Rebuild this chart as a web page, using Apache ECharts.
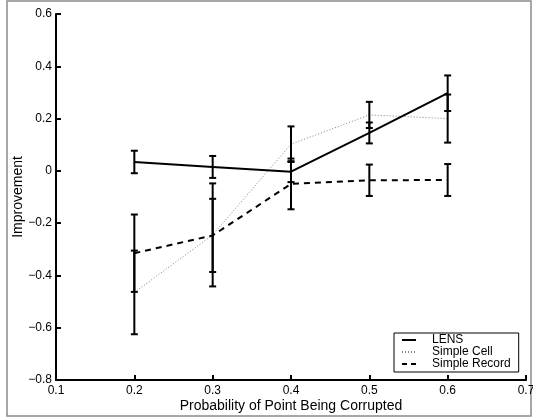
<!DOCTYPE html>
<html>
<head>
<meta charset="utf-8">
<script src="https://cdn.jsdelivr.net/npm/echarts@6/dist/echarts.min.js"></script>
<style>
  html, body { margin: 0; padding: 0; background: #fff; }
  #chart { width: 533px; height: 419px; }
</style>
</head>
<body>
<div id="chart"></div>
<script>
// corruption probability on x
const probs = [0.2, 0.3, 0.4, 0.5, 0.6];
const xTicks = [0.1, 0.7, 0.1]; // min, max, step
const yTicks = [-0.8, 0.6, 0.2];

const lensMean = [0.034, 0.015, -0.003, 0.145, 0.297];
const lensErr = [0.043, 0.042, 0.040, 0.040, 0.068];
const cellMean = [-0.465, -0.245, 0.102, 0.214, 0.200];
const cellErr = [0.160, 0.197, 0.068, 0.050, 0.092];
const recordMean = [-0.315, -0.247, -0.050, -0.036, -0.035];
const recordErr = [0.148, 0.140, 0.097, 0.060, 0.061];

const font = 'Liberation Sans, Arial, Helvetica, sans-serif';

let pairs = function (means) {
    return probs.map((p, i) => [p, means[i]]);
};
let errData = function (means, errs) {
    return probs.map((p, i) => [p, means[i] - errs[i], means[i] + errs[i]]);
};
let renderErr = function (params, api) {
    let lo = api.coord([api.value(0), api.value(1)]);
    let hi = api.coord([api.value(0), api.value(2)]);
    let w = 3.5;
    let st = { stroke: '#000', lineWidth: 2 };
    return {
        type: 'group',
        children: [
            { type: 'line', shape: { x1: lo[0], y1: lo[1], x2: hi[0], y2: hi[1] }, style: st },
            { type: 'line', shape: { x1: lo[0] - w, y1: lo[1], x2: lo[0] + w, y2: lo[1] }, style: st },
            { type: 'line', shape: { x1: hi[0] - w, y1: hi[1], x2: hi[0] + w, y2: hi[1] }, style: st }
        ]
    };
};
let errSeries = function (means, errs) {
    return {
        type: 'custom',
        renderItem: renderErr,
        data: errData(means, errs),
        encode: { x: 0, y: [1, 2] },
        z: 5,
        silent: true
    };
};

let chart = echarts.init(document.getElementById('chart'));
chart.setOption({
    animation: false,
    backgroundColor: '#fff',
    textStyle: { fontFamily: font },
    graphic: [{
        type: 'rect',
        shape: { x: 7, y: 1, width: 524, height: 415 },
        style: { fill: 'none', stroke: '#8a8a8a', lineWidth: 1.5 },
        silent: true
    }],
    grid: { left: 56, top: 14, right: 7, bottom: 39, containLabel: false, outerBoundsMode: 'none' },
    legend: {
        orient: 'vertical',
        left: 394,
        top: 333,
        padding: [1, 8, 2, 7],
        itemGap: 0,
        itemWidth: 14,
        itemHeight: 12,
        borderColor: '#000',
        borderWidth: 1,
        backgroundColor: '#fff',
        itemStyle: { color: 'rgba(0,0,0,0)', borderColor: 'rgba(0,0,0,0)', borderWidth: 0 },
        textStyle: { fontFamily: font, fontSize: 12, color: '#000', padding: [0, 0, 0, 11] },
        data: [
            'LENS',
            { name: 'Simple Cell', lineStyle: { type: [1, 2] } },
            { name: 'Simple Record', lineStyle: { type: [5, 4] } }
        ]
    },
    xAxis: {
        type: 'value',
        min: xTicks[0],
        max: xTicks[1],
        interval: xTicks[2],
        name: 'Probability of Point Being Corrupted',
        nameLocation: 'middle',
        nameGap: 19,
        nameMoveOverlap: false,
        nameTextStyle: { fontFamily: font, fontSize: 14, color: '#000' },
        splitLine: { show: false },
        axisLine: { onZero: false, lineStyle: { color: '#000', width: 2 } },
        axisTick: { inside: true, length: 5, lineStyle: { color: '#000', width: 2 } },
        axisLabel: {
            fontFamily: font, fontSize: 12, color: '#000', margin: 5,
            formatter: v => v.toFixed(1)
        }
    },
    yAxis: {
        type: 'value',
        min: yTicks[0],
        max: yTicks[1],
        interval: yTicks[2],
        name: 'Improvement',
        nameLocation: 'middle',
        nameGap: 31,
        nameMoveOverlap: false,
        nameTextStyle: { fontFamily: font, fontSize: 14, color: '#000' },
        splitLine: { show: false },
        axisLine: { onZero: false, lineStyle: { color: '#000', width: 2 } },
        axisTick: { inside: true, length: 5, lineStyle: { color: '#000', width: 2 } },
        axisLabel: {
            fontFamily: font, fontSize: 12, color: '#000', margin: 4,
            formatter: v => Math.abs(v) < 1e-9 ? '0' : v.toFixed(1).replace('-', '\u2212')
        }
    },
    series: [
        {
            name: 'LENS', type: 'line', data: pairs(lensMean), symbol: 'none',
            lineStyle: { color: '#000', width: 2, type: 'solid' }, itemStyle: { color: '#000' }, z: 3
        },
        {
            name: 'Simple Cell', type: 'line', data: pairs(cellMean), symbol: 'none',
            lineStyle: { color: '#808080', width: 1, type: [1, 2] }, itemStyle: { color: '#808080' }, z: 2
        },
        {
            name: 'Simple Record', type: 'line', data: pairs(recordMean), symbol: 'none',
            lineStyle: { color: '#000', width: 2, type: [6, 5] }, itemStyle: { color: '#000' }, z: 3
        },
        errSeries(lensMean, lensErr),
        errSeries(cellMean, cellErr),
        errSeries(recordMean, recordErr)
    ]
});
</script>
</body>
</html>
